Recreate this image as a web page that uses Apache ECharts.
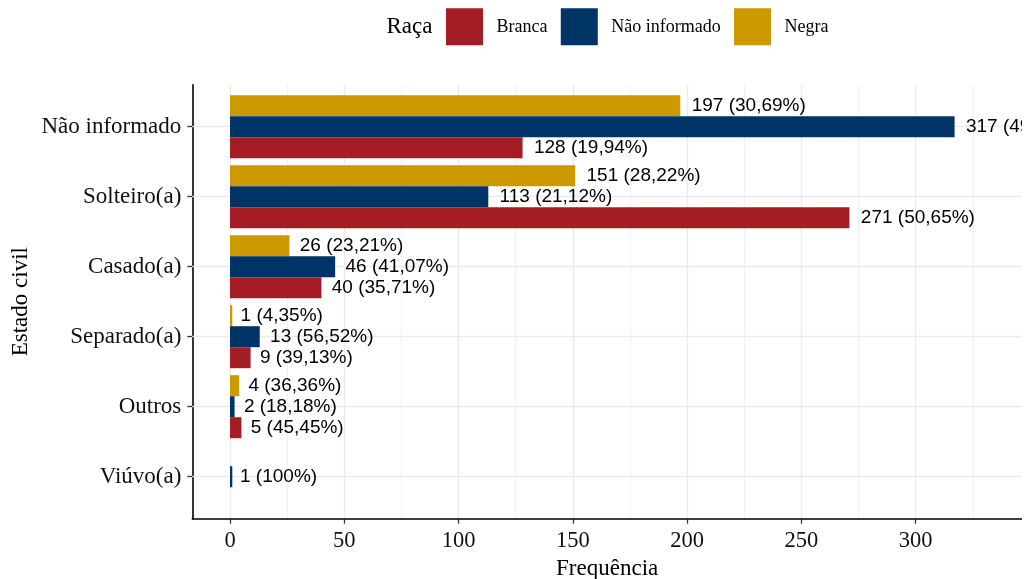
<!DOCTYPE html>
<html>
<head>
<meta charset="utf-8">
<script src="https://cdn.jsdelivr.net/npm/echarts@6/dist/echarts.min.js"></script>
<style>
html,body{margin:0;padding:0;background:#fff;}
#chart{width:1022px;height:579px;}
</style>
</head>
<body>
<div id="chart"></div>
<script>
// categories (bottom to top, as drawn)
const categories = ['Viúvo(a)', 'Outros', 'Separado(a)', 'Casado(a)', 'Solteiro(a)', 'Não informado'];
const seriesNames = ['Branca', 'Não informado', 'Negra'];
const branca = [null, 5, 9, 40, 271, 128];
const brancaPct = [null, '45,45%', '39,13%', '35,71%', '50,65%', '19,94%'];
const naoInformado = [1, 2, 13, 46, 113, 317];
const naoInformadoPct = ['100%', '18,18%', '56,52%', '41,07%', '21,12%', '49,38%'];
const negra = [null, 4, 1, 26, 151, 197];
const negraPct = [null, '36,36%', '4,35%', '23,21%', '28,22%', '30,69%'];
const xTicks = [0, 50, 100, 150, 200, 250, 300];
const xMin = -16.5, xMax = 346.5;

const colors = ['#A51D24', '#003366', '#CC9900'];
const serif = "'Liberation Serif', 'Times New Roman', serif";
const sans = "'Liberation Sans', Arial, sans-serif";
const labelSize = 19;

const measureCtx = document.createElement('canvas').getContext('2d');
measureCtx.font = labelSize + "px 'Liberation Sans', Arial, sans-serif";

function labelText(v, pct) { return v + ' (' + pct + ')'; }

function barSeries(name, values, pcts, color, withGrid) {
  const data = values.map((v, i) => {
    if (v == null) return null;
    const w = measureCtx.measureText(labelText(v, pcts[i])).width;
    return { value: v, label: { distance: 0.1 * w } };
  });
  const s = {
    name: name,
    type: 'bar',
    xAxisIndex: 1,
    yAxisIndex: 1,
    data: data,
    barGap: '0%',
    barCategoryGap: '10%',
    itemStyle: { color: color },
    z: 2,
    label: {
      show: true,
      position: 'right',
      distance: 10,
      fontFamily: sans,
      fontSize: labelSize,
      color: '#000',
      formatter: function (p) {
        if (p.value == null) return '';
        return labelText(p.value, pcts[p.dataIndex]);
      }
    }
  };
  if (withGrid) {
    s.markLine = {
      silent: true,
      z: 1,
      symbol: ['none', 'none'],
      label: { show: false },
      lineStyle: { type: 'solid', color: '#EBEBEB', width: 1.4 },
      emphasis: { disabled: true },
      data: categories.map(c => ({ yAxis: c }))
    };
  }
  return s;
}

const chart = echarts.init(document.getElementById('chart'), null, { renderer: 'canvas' });
chart.setOption({
  animation: false,
  backgroundColor: '#fff',
  title: {
    text: 'Raça',
    left: 386.5,
    top: 15.5,
    padding: 0,
    textStyle: { fontFamily: serif, fontSize: 23, fontWeight: 'normal', color: '#000', lineHeight: 23 }
  },
  legend: {
    data: seriesNames,
    left: 446,
    top: 8.3,
    padding: 0,
    itemWidth: 37,
    itemHeight: 37,
    itemGap: 13.4,
    icon: 'rect',
    itemStyle: { borderWidth: 0 },
    textStyle: { fontFamily: serif, fontSize: 18, color: '#000', padding: [0, 0, 0, 8.4] }
  },
  grid: [
    { left: 192.3, right: 0, top: 84.7, bottom: 60.3, containLabel: false, outerBoundsMode: 'none' },
    { left: 192.3, right: 0, top: 91.7, bottom: 67.3, containLabel: false, outerBoundsMode: 'none' }
  ],
  xAxis: [
    {
      type: 'value', gridIndex: 0, min: xMin, max: xMax, splitNumber: 7,
      axisLine: { show: true, onZero: false, lineStyle: { color: '#000', width: 1.6 } },
      axisTick: { show: true, length: 5, customValues: xTicks, lineStyle: { color: '#333', width: 1.3 } },
      axisLabel: { show: true, customValues: xTicks, margin: 11,
        fontFamily: serif, fontSize: 22.5, color: '#111' },
      splitLine: { show: true, lineStyle: { color: '#EBEBEB', width: 1.4 } },
      minorTick: { show: false, splitNumber: 2 },
      minorSplitLine: { show: true, lineStyle: { color: '#EBEBEB', width: 0.7 } },
      name: 'Frequência', nameLocation: 'middle', nameGap: 37,
      nameTextStyle: { fontFamily: serif, fontSize: 23, color: '#000' }
    },
    {
      type: 'value', gridIndex: 1, min: xMin, max: xMax, show: false
    }
  ],
  yAxis: [
    {
      type: 'value', gridIndex: 0, min: 0, max: 1,
      axisLine: { show: true, onZero: false, lineStyle: { color: '#000', width: 1.6 } },
      axisTick: { show: false }, axisLabel: { show: false }, splitLine: { show: false },
      name: 'Estado civil', nameLocation: 'middle', nameRotate: 90, nameGap: 160,
      nameTextStyle: { fontFamily: serif, fontSize: 23, color: '#000' }
    },
    {
      type: 'category', gridIndex: 1, data: categories,
      axisLine: { show: false, onZero: false },
      axisTick: { show: true, alignWithLabel: true, length: 5, lineStyle: { color: '#333', width: 1.3 } },
      axisLabel: { margin: 11, fontFamily: serif, fontSize: 23, color: '#111' },
      splitLine: { show: false }
    }
  ],
  // series order: ECharts places the first series at the top of each band
  series: [
    barSeries('Negra', negra, negraPct, colors[2], false),
    barSeries('Não informado', naoInformado, naoInformadoPct, colors[1], true),
    barSeries('Branca', branca, brancaPct, colors[0], false)
  ]
});
</script>
</body>
</html>
